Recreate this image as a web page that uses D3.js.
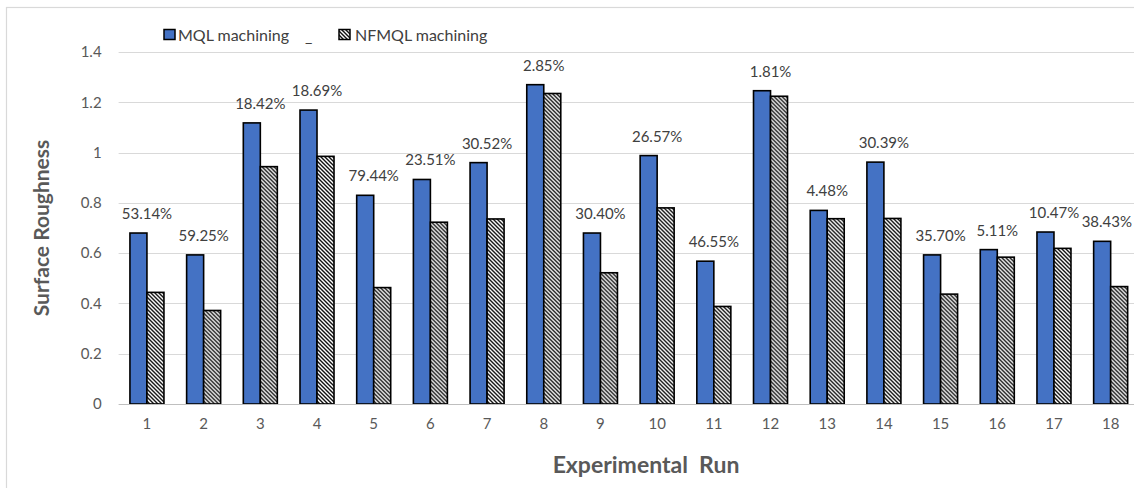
<!DOCTYPE html>
<html>
<head>
<meta charset="utf-8">
<script src="https://cdn.jsdelivr.net/npm/d3@7"></script>
<style>
  html, body { margin: 0; padding: 0; background: #fff; }
  svg { display: block; }
</style>
</head>
<body>
<script>
// Surface roughness per experimental run, MQL vs NFMQL machining
const runs = ["1","2","3","4","5","6","7","8","9","10","11","12","13","14","15","16","17","18"];
const mqlValues   = [0.680, 0.593, 1.118, 1.169, 0.830, 0.893, 0.960, 1.270, 0.680, 0.988, 0.568, 1.246, 0.770, 0.962, 0.593, 0.614, 0.684, 0.647];
const nfmqlValues = [0.444, 0.372, 0.944, 0.985, 0.463, 0.723, 0.736, 1.235, 0.522, 0.780, 0.388, 1.224, 0.737, 0.738, 0.437, 0.584, 0.619, 0.467];
const gainLabels  = ["53.14%","59.25%","18.42%","18.69%","79.44%","23.51%","30.52%","2.85%","30.40%","26.57%","46.55%","1.81%","4.48%","30.39%","35.70%","5.11%","10.47%","38.43%"];
const yTicks = [0, 0.2, 0.4, 0.6, 0.8, 1, 1.2, 1.4];
const seriesNames = ["MQL machining", "NFMQL machining"];

const W = 1134, H = 488;
const margin = { left: 118.6, right: -5, top: 52, bottom: 84 };
const font = "Lato, 'Open Sans', sans-serif";
const textGray = "#595959";
const blue = "#4472C4";

const svg = d3.select("body").append("svg").attr("width", W).attr("height", H);

const defs = svg.append("defs");
const hatch = defs.append("pattern")
  .attr("id", "hatch").attr("patternUnits", "userSpaceOnUse")
  .attr("width", 4).attr("height", 4);
hatch.append("rect").attr("width", 4).attr("height", 4).attr("fill", "#fff");
hatch.append("path").attr("d", "M-1,-1 L5,5 M-1,3 L1,5 M3,-1 L5,1")
  .attr("stroke", "#111").attr("stroke-width", 1.4);

// outer chart frame
svg.append("rect").attr("x", 6.5).attr("y", 7.5).attr("width", W).attr("height", H)
  .attr("fill", "none").attr("stroke", "#d9d9d9").attr("stroke-width", 1.2);

const x = d3.scaleBand().domain(runs).range([margin.left, W - margin.right]).paddingInner(0.4).paddingOuter(0.2);
const xs = d3.scaleBand().domain(seriesNames).range([0, x.bandwidth()]);
const y = d3.scaleLinear().domain([0, 1.4]).range([H - margin.bottom, margin.top]);

// gridlines
svg.append("g").selectAll("line").data(yTicks.slice(1)).join("line")
  .attr("x1", margin.left).attr("x2", W)
  .attr("y1", d => Math.round(y(d)) + 0.5).attr("y2", d => Math.round(y(d)) + 0.5)
  .attr("stroke", "#d9d9d9").attr("stroke-width", 1);

// y axis labels
const yAxis = svg.append("g").attr("transform", `translate(${margin.left - 17},0)`)
  .call(d3.axisLeft(y).tickValues(yTicks).tickFormat(d3.format("~g")).tickSize(0).tickPadding(0));
yAxis.select(".domain").remove();
yAxis.selectAll("text").attr("font-family", font).attr("font-size", 15).attr("fill", textGray);

// bars
const groups = svg.append("g").selectAll("g").data(runs).join("g")
  .attr("transform", d => `translate(${x(d)},0)`);

groups.append("rect")
  .attr("x", xs("MQL machining"))
  .attr("y", (d, i) => y(mqlValues[i]))
  .attr("width", xs.bandwidth())
  .attr("height", (d, i) => y(0) - y(mqlValues[i]))
  .attr("fill", blue).attr("stroke", "#000").attr("stroke-width", 1.6);

groups.append("rect")
  .attr("x", xs("NFMQL machining"))
  .attr("y", (d, i) => y(nfmqlValues[i]))
  .attr("width", xs.bandwidth())
  .attr("height", (d, i) => y(0) - y(nfmqlValues[i]))
  .attr("fill", "url(#hatch)").attr("stroke", "#000").attr("stroke-width", 1.6);

// baseline axis
const xAxis = svg.append("g").attr("transform", `translate(0,${y(0)})`)
  .call(d3.axisBottom(x).tickSize(0).tickPadding(14));
xAxis.select(".domain").attr("stroke", "#bfbfbf").attr("d", `M${margin.left},0.5H${W}`);
xAxis.selectAll("text").attr("font-family", font).attr("font-size", 15).attr("fill", textGray);

// percentage labels above each pair, kept inside the drawing
groups.append("text")
  .attr("x", x.bandwidth() / 2)
  .attr("y", (d, i) => y(mqlValues[i]) - 14)
  .attr("text-anchor", "middle")
  .attr("font-family", font).attr("font-size", 15).attr("fill", "#404040")
  .text((d, i) => gainLabels[i])
  .each(function (d) {
    const half = this.getComputedTextLength() / 2;
    const cx = x(d) + x.bandwidth() / 2;
    const limit = W - 2;
    if (cx + half > limit) d3.select(this).attr("x", x.bandwidth() / 2 - (cx + half - limit));
  });

// axis titles
svg.append("text")
  .attr("transform", `translate(49,${(y(0) + y(1.4)) / 2}) rotate(-90)`)
  .attr("text-anchor", "middle")
  .attr("font-family", font).attr("font-size", 21).attr("font-weight", "bold").attr("fill", textGray)
  .text("Surface Roughness");

svg.append("text")
  .attr("x", 646).attr("y", 473)
  .attr("text-anchor", "middle")
  .attr("font-family", font).attr("font-size", 23).attr("font-weight", "bold").attr("fill", textGray)
  .style("white-space", "pre")
  .text("Experimental  Run");

// legend
const legend = svg.append("g").attr("font-family", font).attr("font-size", 16).attr("fill", "#404040");
legend.append("rect").attr("x", 164).attr("y", 29.5).attr("width", 11).attr("height", 10)
  .attr("fill", blue).attr("stroke", "#000").attr("stroke-width", 1.5);
legend.append("text").attr("x", 178).attr("y", 40.5).text(seriesNames[0]);
legend.append("text").attr("x", 305).attr("y", 42).text("_");
legend.append("rect").attr("x", 339).attr("y", 29.5).attr("width", 11).attr("height", 10)
  .attr("fill", "url(#hatch)").attr("stroke", "#000").attr("stroke-width", 1.5);
legend.append("text").attr("x", 355).attr("y", 40.5).text(seriesNames[1]);
</script>
</body>
</html>
